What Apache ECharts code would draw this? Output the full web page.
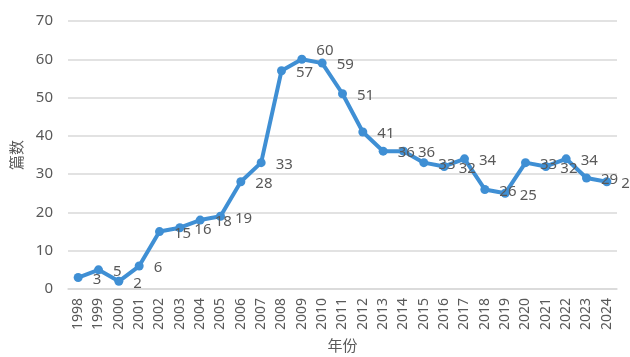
<!DOCTYPE html>
<html>
<head>
<meta charset="utf-8">
<script src="https://cdn.jsdelivr.net/npm/echarts@6/dist/echarts.min.js"></script>
<style>html,body{margin:0;padding:0;background:#fff}#c{width:630px;height:357px}</style>
</head>
<body>
<div id="c"></div>
<script>
const years = ['1998','1999','2000','2001','2002','2003','2004','2005','2006','2007','2008','2009','2010','2011','2012','2013','2014','2015','2016','2017','2018','2019','2020','2021','2022','2023','2024'];
const counts = [3,5,2,6,15,16,18,19,28,33,57,60,59,51,41,36,36,33,32,34,26,25,33,32,34,29,28];
const yTicks = [0,10,20,30,40,50,60,70];

const font = '"Noto Sans","Noto Sans CJK SC",sans-serif';
const chart = echarts.init(document.getElementById('c'), null, {renderer:'canvas'});
chart.setOption({
  animation:false,
  backgroundColor:'#fff',
  grid:{left:68,right:13,top:21,bottom:68,containLabel:false,outerBoundsMode:'none'},
  xAxis:{
    type:'category', data:years, boundaryGap:true,
    name:'年份', nameLocation:'middle', nameGap:50,
    nameTextStyle:{color:'#595959', fontSize:15, fontFamily:font},
    axisLine:{show:true, lineStyle:{color:'#d9d9d9', width:1.5}},
    axisTick:{show:false},
    axisLabel:{rotate:90, interval:0, color:'#595959', fontSize:14, fontFamily:font, margin:9}
  },
  yAxis:{
    type:'value', min:yTicks[0], max:yTicks[yTicks.length-1], interval:10,
    name:'篇数', nameLocation:'middle', nameGap:40, nameRotate:90,
    nameTextStyle:{color:'#595959', fontSize:15, fontFamily:font},
    axisLine:{show:false}, axisTick:{show:false},
    splitLine:{lineStyle:{color:'#d9d9d9', width:1.5}},
    axisLabel:{color:'#595959', fontSize:15, fontFamily:font, margin:15}
  },
  series:[{
    type:'line', data:counts.map((v,i)=> i===11 ? {value:v, label:{offset:[0,-9]}} : v),
    symbol:'circle', symbolSize:9,
    lineStyle:{color:'#3f8fd4', width:4},
    itemStyle:{color:'#3f8fd4'},
    label:{show:true, position:'right', distance:10, color:'#595959', fontSize:15, fontFamily:font, offset:[0,2]}
  }]
});
</script>
</body>
</html>
